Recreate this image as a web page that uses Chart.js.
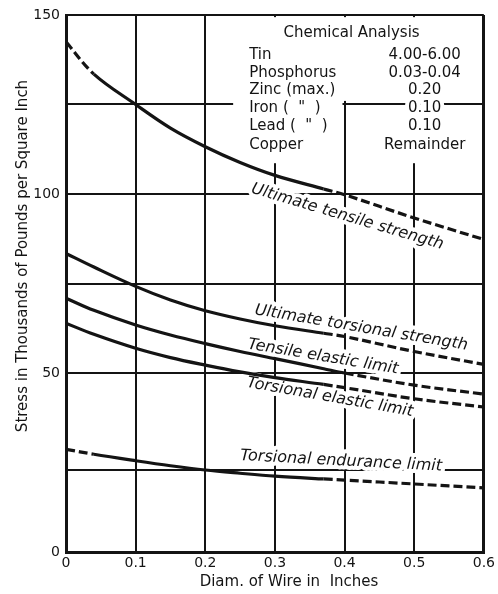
<!DOCTYPE html>
<html>
<head>
<meta charset="utf-8">
<title>Stress vs wire diameter</title>
<script src="https://cdn.jsdelivr.net/npm/chart.js@4.4.1/dist/chart.umd.min.js"></script>
<style>
    html, body { margin: 0; padding: 0; background: #fff; }
    #wrap { width: 498px; height: 594px; position: relative; }
</style>
</head>
<body>
<div id="wrap"><canvas id="chart"></canvas></div>
<script>
const diameters = [0, 0.04, 0.1, 0.15, 0.2, 0.25, 0.3, 0.37, 0.4, 0.5, 0.6];

// Stress in thousands of pounds per square inch
const ultimateTensile    = [142.5, 133.5, 125, 118.4, 113.2, 108.8, 105.2, 101.4, 99.8, 93.3, 87.3];
const ultimateTorsional  = [83.4, 79.6, 74.2, 70.4, 67.4, 65.1, 63.2, 61.1, 60.2, 56, 52.4];
const tensileElastic     = [70.9, 67.5, 63.4, 60.6, 58.2, 56, 54, 51.2, 50, 46.6, 44.1];
const torsionalElastic   = [63.9, 60.8, 56.9, 54.3, 52.2, 50.3, 48.7, 46.8, 45.9, 42.8, 40.5];
const torsionalEndurance = [28.7, 27.3, 25.5, 24.1, 22.9, 22, 21.2, 20.4, 20.1, 19, 17.9];

const seriesNames = [
    'Ultimate tensile strength',
    'Ultimate torsional strength',
    'Tensile elastic limit',
    'Torsional elastic limit',
    'Torsional endurance limit'
];

// Each curve is solid between these diameters and dashed outside
const solidFrom = [0.04, 0, 0, 0, 0.04];
const solidTo   = [0.37, 0.37, 0.4, 0.37, 0.37];

// Axis ticks
const xTicks = [0, 0.1, 0.2, 0.3, 0.4, 0.5, 0.6];
const yTicks = [0, 23, 50, 75, 100, 125, 150];
const yLabelled = [0, 50, 100, 150];

// Chemical analysis table
const chemNames  = ['Tin', 'Phosphorus', 'Zinc (max.)', 'Iron (  "  )', 'Lead (  "  )', 'Copper'];
const chemValues = ['4.00-6.00', '0.03-0.04', '0.20', '0.10', '0.10', 'Remainder'];

const INK = '#141414';
const DASH = [9, 4];
const FONT = '"DejaVu Sans", "Liberation Sans", sans-serif';

// where the curve names sit (diameter, stress, angle in degrees)
const labelSpots = [
    { x: 0.404, y: 93.6, angle: 16.5 },
    { x: 0.424, y: 62.6, angle: 9.5 },
    { x: 0.369, y: 54.5, angle: 9.5 },
    { x: 0.379, y: 43.2, angle: 10 },
    { x: 0.395, y: 25.4, angle: 3 }
];

const allSeries = [ultimateTensile, ultimateTorsional, tensileElastic, torsionalElastic, torsionalEndurance];

const datasets = allSeries.map((values, i) => ({
    label: seriesNames[i],
    data: diameters.map((d, j) => ({ x: d, y: values[j] })),
    borderColor: INK,
    borderWidth: 3.2,
    pointRadius: 0,
    fill: false,
    tension: 0.35,
    segment: {
        borderDash: ctx => {
            const x = ctx.p0.parsed.x;
            return (x < solidFrom[i] || x >= solidTo[i]) ? DASH : undefined;
        }
    }
}));

// Draw a line of text, either as a white halo (to break grid lines) or in ink
function putText(ctx, text, x, y, angle, font, align, halo) {
    ctx.save();
    ctx.translate(x, y);
    ctx.rotate(angle * Math.PI / 180);
    ctx.font = font;
    ctx.textAlign = align;
    ctx.textBaseline = 'middle';
    if (halo) {
        ctx.strokeStyle = '#fff';
        ctx.lineWidth = 8;
        ctx.lineJoin = 'round';
        ctx.strokeText(text, 0, 0);
    } else {
        ctx.fillStyle = INK;
        ctx.fillText(text, 0, 0);
    }
    ctx.restore();
}

function drawNotes(chart, halo) {
    const ctx = chart.ctx;
    const xs = chart.scales.x;
    const ys = chart.scales.y;
    const top = chart.chartArea.top;

    // curve names
    labelSpots.forEach((spot, i) => {
        putText(ctx, seriesNames[i], xs.getPixelForValue(spot.x), ys.getPixelForValue(spot.y),
            spot.angle, 'oblique 16px ' + FONT, 'center', halo);
    });

    // chemical analysis table
    const chemFont = '15px ' + FONT;
    putText(ctx, 'Chemical Analysis', xs.getPixelForValue(0.41), top + 18, 0, chemFont, 'center', halo);
    const rowY = [40, 58, 75, 93, 111, 130];
    chemNames.forEach((name, i) => {
        putText(ctx, name, xs.getPixelForValue(0.263), top + rowY[i], 0, chemFont, 'left', halo);
        putText(ctx, chemValues[i], xs.getPixelForValue(0.515), top + rowY[i], 0, chemFont, 'center', halo);
    });
}

const notesPlugin = {
    id: 'notes',
    beforeDatasetsDraw(chart) {
        const ctx = chart.ctx;
        const xs = chart.scales.x;
        const ys = chart.scales.y;
        // clear the grid behind the chemical analysis table
        const blank = (x0, x1, y0, y1) => {
            const l = xs.getPixelForValue(x0), r = xs.getPixelForValue(x1);
            const t = ys.getPixelForValue(y1), b = ys.getPixelForValue(y0);
            ctx.fillStyle = '#fff';
            ctx.fillRect(l, t, r - l, b - t);
        };
        blank(0.24, 0.594, 126, 149.4);
        blank(0.24, 0.397, 124, 126.5);
        blank(0.291, 0.309, 108.6, 126.5);
        blank(0.491, 0.509, 108.6, 126.5);
        drawNotes(chart, true);
    },
    afterDatasetsDraw(chart) {
        drawNotes(chart, false);
    },
    afterDraw(chart) {
        const ctx = chart.ctx;
        putText(ctx, 'Stress in Thousands of Pounds per Square Inch', 23, 256, -90, '15px ' + FONT, 'center', false);
        putText(ctx, 'Diam. of Wire in  Inches', 289, 582, 0, '15px ' + FONT, 'center', false);
    }
};

new Chart(document.getElementById('chart'), {
    type: 'line',
    data: { datasets: datasets },
    plugins: [notesPlugin],
    options: {
        responsive: true,
        maintainAspectRatio: false,
        animation: false,
        layout: {
            autoPadding: false,
            padding: { top: 15, right: 3, left: 0, bottom: 0 }
        },
        plugins: {
            legend: { display: false },
            tooltip: { enabled: false }
        },
        scales: {
            x: {
                type: 'linear',
                min: 0,
                max: 0.6,
                afterBuildTicks: scale => { scale.ticks = xTicks.map(v => ({ value: v })); },
                afterFit: scale => { scale.height = 42; },
                grid: {
                    color: INK,
                    lineWidth: ctx => (ctx.tick && ctx.tick.value === 0.6) ? 3 : 2,
                    drawTicks: false
                },
                border: { display: true, color: INK, width: 3 },
                ticks: {
                    color: INK,
                    padding: 3,
                    maxRotation: 0,
                    autoSkip: false,
                    font: { family: FONT, size: 14 },
                    callback: v => v === 0 ? '0' : v.toFixed(1)
                }
            },
            y: {
                type: 'linear',
                min: 0,
                max: 150,
                afterBuildTicks: scale => { scale.ticks = yTicks.map(v => ({ value: v })); },
                afterFit: scale => { scale.width = 66; },
                grid: {
                    color: INK,
                    lineWidth: 2,
                    drawTicks: false
                },
                border: { display: true, color: INK, width: 3 },
                ticks: {
                    color: INK,
                    padding: 6,
                    font: { family: FONT, size: 14 },
                    callback: v => yLabelled.includes(v) ? String(v) : ''
                }
            }
        }
    }
});
</script>
</body>
</html>
